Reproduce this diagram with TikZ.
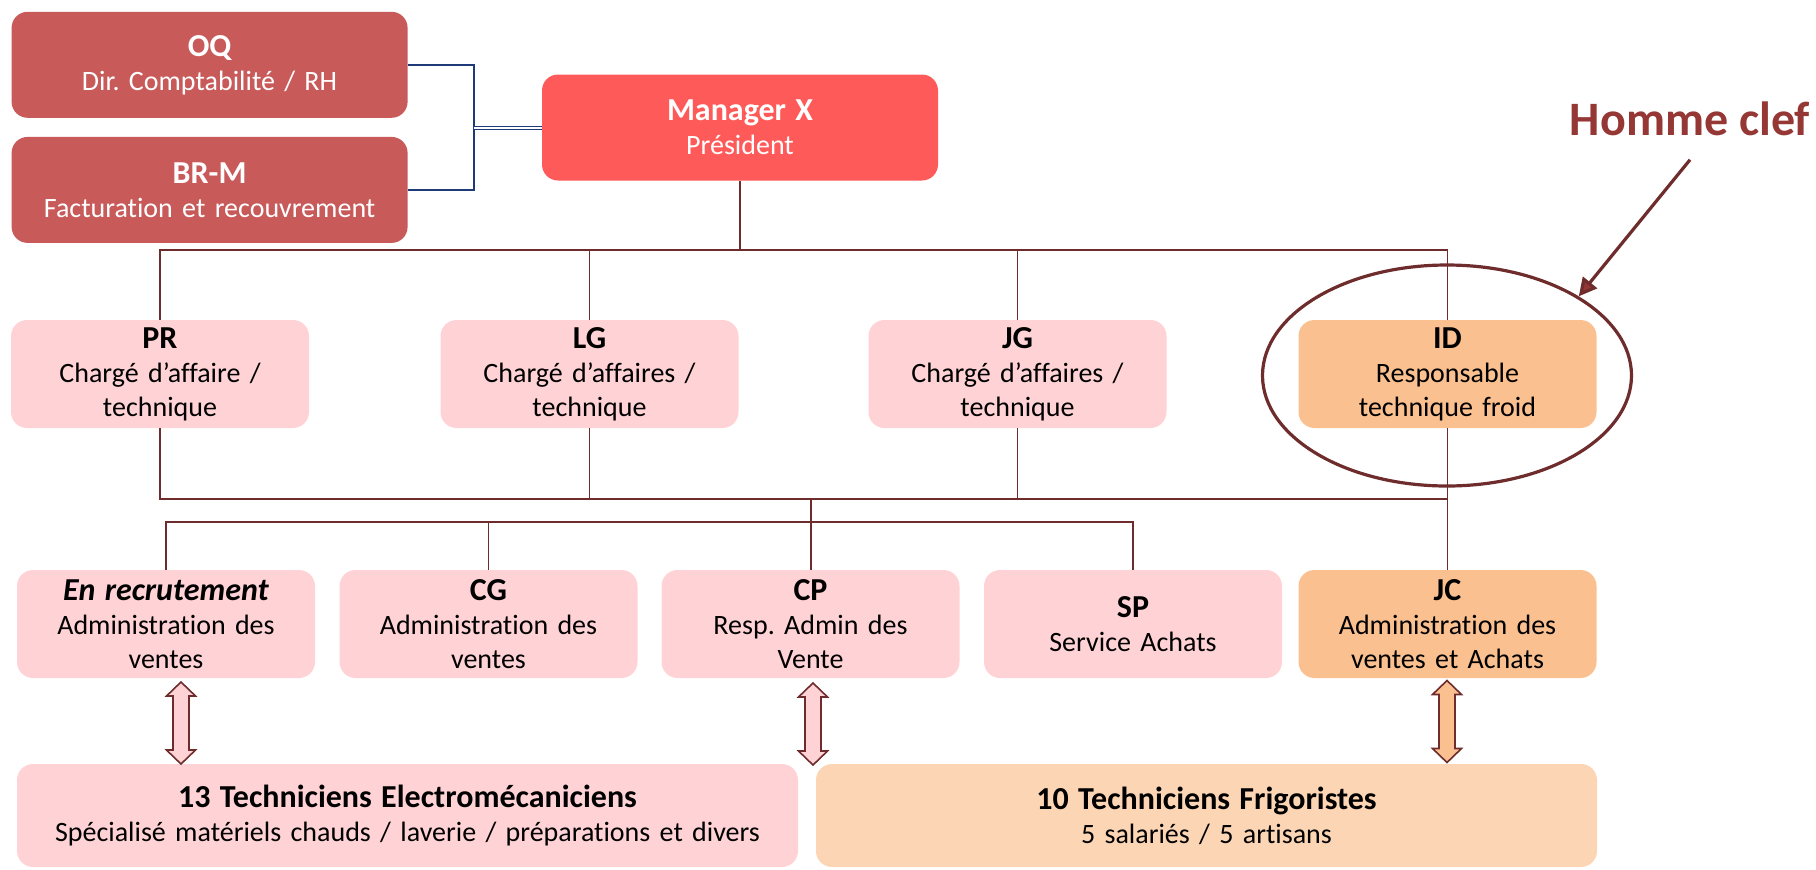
\documentclass[tikz,border=0pt]{standalone}
\usepackage{fontspec}
\setmainfont{Carlito}[Ligatures=NoCommon]
\frenchspacing
\usetikzlibrary{arrows.meta,calc,positioning,shapes.geometric}

\definecolor{linered}{HTML}{6E2C2C}
\definecolor{keyred}{HTML}{953735}
\definecolor{dirred}{HTML}{C85A5A}
\definecolor{bossred}{HTML}{FF5A5A}
\definecolor{staffpink}{HTML}{FFD3D6}
\definecolor{froidorange}{HTML}{FAC090}
\definecolor{froidpeach}{HTML}{FCD5B4}
\definecolor{lineblue}{HTML}{1F3A78}

\newcommand{\ttl}[1]{{\fontsize{16}{17}\selectfont\bfseries #1}}

\begin{document}
\begin{tikzpicture}[x=0.5pt,y=-0.5pt,
    box/.style={rounded corners=8pt,inner sep=0pt,align=center,
      minimum width=149pt,minimum height=54pt,text width=145pt,
      font=\fontsize{14}{17}\selectfont},
    topbox/.style={box,minimum width=198pt,minimum height=53pt,text width=190pt,text=white},
    widebox/.style={box,minimum width=390.5pt,minimum height=51.5pt,text width=385pt},
    orgline/.style={draw=linered,line width=0.8pt},
    orgthick/.style={draw=linered,line width=1.3pt},
    blueline/.style={draw=lineblue,line width=0.8pt},
    updown/.pic={
      \draw[draw=linered,line width=0.8pt,fill=#1]
        (0,-41) -- (14.5,-27) -- (8,-27) -- (8,27) -- (14.5,27) -- (0,41)
        -- (-14.5,27) -- (-8,27) -- (-8,-27) -- (-14.5,-27) -- cycle;
    },
    keyarrow/.style={draw=linered,line width=1.6pt,
      -{Triangle[length=9pt,width=9pt,fill=keyred]}}]
  \useasboundingbox (0,0) rectangle (1816,869);

  % direction
  \node[topbox,fill=dirred] (oq) at (209.6,64.8) {\ttl{OQ}\\Dir. Comptabilité / RH};
  \node[topbox,fill=dirred] (brm) at (209.6,189.9) {\ttl{BR-M}\\Facturation et recouvrement};
  \node[topbox,fill=bossred] (mgr) at (740,127.5) {\ttl{Manager X}\\Président};

  % charges d'affaires
  \node[box,fill=staffpink] (pr) at (160,374) {\ttl{PR}\\Chargé d’affaire /\\technique};
  \node[box,fill=staffpink] (lg) at (589.5,374) {\ttl{LG}\\Chargé d’affaires /\\technique};
  \node[box,fill=staffpink] (jg) at (1017.5,374) {\ttl{JG}\\Chargé d’affaires /\\technique};
  \node[box,fill=froidorange] (id) at (1447.5,374) {\ttl{ID}\\Responsable\\technique froid};

  % administration
  \node[box,fill=staffpink] (enrec) at (166,624) {\ttl{\itshape En recrutement}\\Administration des\\ventes};
  \node[box,fill=staffpink] (cg) at (488.5,624) {\ttl{CG}\\Administration des\\ventes};
  \node[box,fill=staffpink] (cp) at (810.5,624) {\ttl{CP}\\Resp. Admin des\\Vente};
  \node[box,fill=staffpink] (sp) at (1133,624) {\ttl{SP}\\Service Achats};
  \node[box,fill=froidorange] (jc) at (1447.5,624) {\ttl{JC}\\Administration des\\ventes et Achats};

  % techniciens
  \node[widebox,fill=staffpink] (elec) at (407.5,815.5) {\ttl{13 Techniciens Electromécaniciens}\\Spécialisé matériels chauds / laverie / préparations et divers};
  \node[widebox,fill=froidpeach] (frigo) at (1206.5,815.5) {\ttl{10 Techniciens Frigoristes}\\5 salariés / 5 artisans};

  % liaisons direction
  \coordinate (bluejoin) at (474,127.5);
  \draw[blueline] (oq.east) -| (bluejoin) |- (brm.east);
  \draw[blueline,double=white,double distance=1pt,line width=0.5pt] (bluejoin) -- (mgr.west);

  \coordinate (topbus) at (740,250);
  \coordinate (lowbus) at (811,499);
  \coordinate (admbus) at (811,522);
  \draw[orgthick] (mgr.south) -- (topbus);
  \draw[orgline] (pr.north) |- (id.north |- topbus) -- (id.north);
  \draw[orgline] (lg.north) -- (lg.north |- topbus);
  \draw[orgline] (jg.north) -- (jg.north |- topbus);

  \draw[orgline] (pr.south) |- (jc.north |- lowbus);
  \draw[orgline] (lg.south) -- (lg.south |- lowbus);
  \draw[orgline] (jg.south) -- (jg.south |- lowbus);
  \draw[orgline] (id.south) -- (jc.north);
  \draw[orgthick] (lowbus) -- (lowbus |- cp.north);
  \draw[orgline] (enrec.north) |- (sp.north |- admbus) -- (sp.north);
  \draw[orgline] (cg.north) -- (cg.north |- admbus);

  % doubles fleches
  \pic at (181,723) {updown=staffpink};
  \pic at (813,724) {updown=staffpink};
  \pic at (1447,721.5) {updown=froidorange};

  % homme clef
  \node[draw=linered,line width=1.6pt,ellipse,inner sep=0pt,
    minimum width=184.5pt,minimum height=110.5pt] (idring) at (1447,375.5) {};
  \node[anchor=base,inner sep=0pt,text=keyred,font=\fontsize{24}{28}\selectfont\bfseries]
    (clef) at (1690,135) {Homme clef};
  \draw[keyarrow] ([yshift=-12pt]clef.south) -- (idring.31);
\end{tikzpicture}
\end{document}
